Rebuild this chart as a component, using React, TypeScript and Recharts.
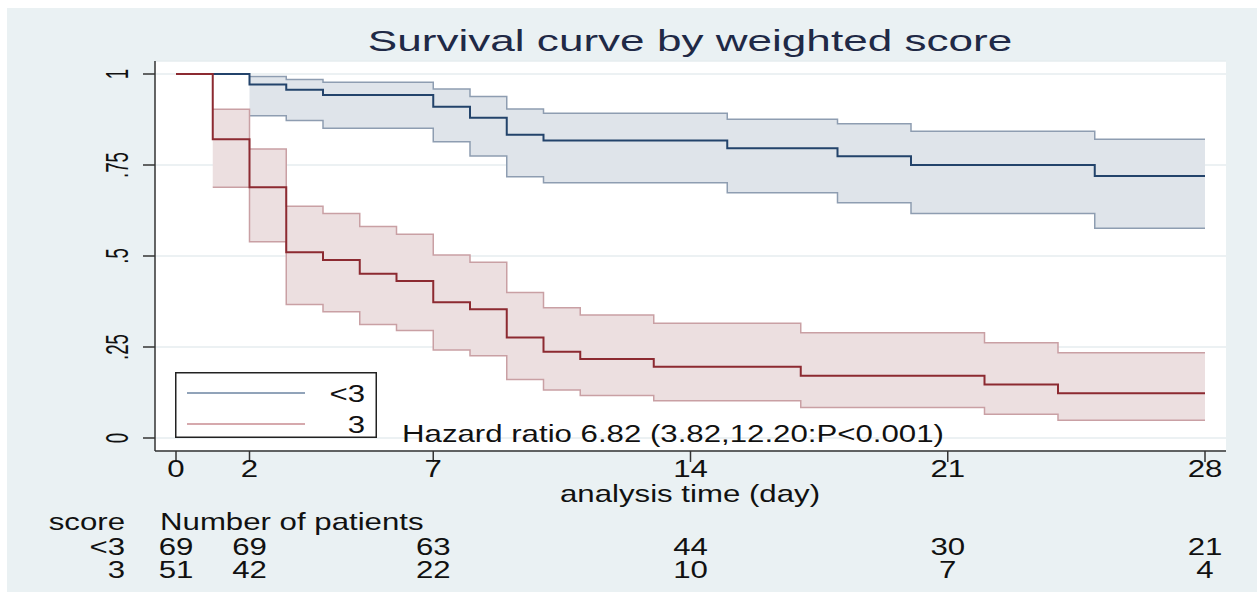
import { Area, CartesianGrid, ComposedChart, Legend, Line, XAxis, YAxis } from 'recharts'

const W = 1257
const H = 592
const FONT = '"Liberation Sans", Arial, Helvetica, sans-serif'
// the source picture is stretched sideways, so text is widened to match
const SX = 1.3

// score < 3
const lowTimes = [0, 2, 3, 4, 7, 8, 9, 10, 15, 18, 20, 25, 28]
const lowSurv = [1, 0.971, 0.957, 0.942, 0.91, 0.88, 0.833, 0.817, 0.796, 0.774, 0.75, 0.72, 0.72]
const lowBandTimes = [2, 3, 4, 7, 8, 9, 10, 15, 18, 20, 25, 28]
const lowUpper = [0.993, 0.985, 0.977, 0.959, 0.938, 0.904, 0.892, 0.876, 0.863, 0.843, 0.821, 0.821]
const lowLower = [0.885, 0.872, 0.851, 0.814, 0.775, 0.718, 0.701, 0.674, 0.646, 0.617, 0.576, 0.576]

// score 3
const highTimes = [0, 1, 2, 3, 4, 5, 6, 7, 8, 9, 10, 11, 13, 17, 22, 24, 28]
const highSurv = [1, 0.821, 0.689, 0.51, 0.489, 0.451, 0.431, 0.373, 0.354, 0.276, 0.237, 0.217, 0.196, 0.171, 0.147, 0.123, 0.123]
const highBandTimes = [1, 2, 3, 4, 5, 6, 7, 8, 9, 10, 11, 13, 17, 22, 24, 28]
const highUpper = [0.903, 0.794, 0.637, 0.617, 0.581, 0.56, 0.503, 0.483, 0.4, 0.358, 0.338, 0.315, 0.289, 0.262, 0.234, 0.234]
const highLower = [0.689, 0.539, 0.367, 0.347, 0.312, 0.295, 0.242, 0.226, 0.161, 0.132, 0.117, 0.102, 0.084, 0.065, 0.049, 0.049]

const xTicks = [0, 2, 7, 14, 21, 28]
const yTicks = [0, 0.25, 0.5, 0.75, 1]
const yTickLabels = ['0', '.25', '.5', '.75', '1']
const riskLow = [69, 69, 63, 44, 30, 21]
const riskHigh = [51, 42, 22, 10, 7, 4]
const legendNames = ['<3', '3']
const legendColors = ['#91a3b9', '#d6a9ad']

const lowCurve = lowTimes.map((t, i) => ({ t, s: lowSurv[i] }))
const lowBand = lowBandTimes.map((t, i) => ({ t, lo: lowLower[i], hi: lowUpper[i] }))
const highCurve = highTimes.map((t, i) => ({ t, s: highSurv[i] }))
const highBand = highBandTimes.map((t, i) => ({ t, lo: highLower[i], hi: highUpper[i] }))

function SText({ x, y, anchor = 'start', size = 24, sx = SX, fill = '#111', children }: any) {
  return (
    <text
      transform={`translate(${x},${y}) scale(${sx},1)`}
      textAnchor={anchor}
      fontSize={size}
      fontFamily={FONT}
      fill={fill}
    >
      {children}
    </text>
  )
}

function XTick(props: any) {
  const { x, payload } = props
  const i = xTicks.indexOf(payload.value)
  return (
    <g>
      <SText x={x} y={477} anchor="middle">{String(payload.value)}</SText>
      <SText x={x} y={555} anchor="middle">{riskLow[i]}</SText>
      <SText x={x} y={578} anchor="middle">{riskHigh[i]}</SText>
    </g>
  )
}

function YTick(props: any) {
  const { y, payload } = props
  const label = yTickLabels[yTicks.indexOf(payload.value)]
  return (
    <text
      transform={`translate(128,${y}) scale(1.4,1) rotate(-90) scale(0.85,1)`}
      textAnchor="middle"
      fontSize={22}
      fontFamily={FONT}
      fill="#111"
    >
      {label}
    </text>
  )
}

function LegendBox() {
  return (
    <svg width={202} height={66} style={{ display: 'block' }}>
      <rect x={0.75} y={0.75} width={200.5} height={64.5} fill="#fff" stroke="#222" strokeWidth={1.5} />
      {legendNames.map((name, i) => (
        <g key={name}>
          <line x1={12} x2={130} y1={21 + i * 31} y2={21 + i * 31} stroke={legendColors[i]} strokeWidth={2} />
          <SText x={190} y={30 + i * 31} anchor="end">{name}</SText>
        </g>
      ))}
    </svg>
  )
}

export default function App() {
  return (
    <div style={{ position: 'absolute', left: 0, top: 0, width: W, height: H, background: '#fff' }}>
      <div style={{ position: 'absolute', left: 7, top: 8, width: W - 7, height: 584, background: '#eaf1f3' }} />
      <div style={{ position: 'absolute', left: 0, top: 0 }}>
        <ComposedChart width={W} height={H} margin={{ top: 61, right: 31, bottom: 111, left: 95 }}>
          <CartesianGrid fill="#fff" vertical={false} stroke="#e6edef" strokeWidth={1.5} />
          <XAxis
            type="number"
            dataKey="t"
            domain={[0, 28]}
            ticks={xTicks}
            padding={{ left: 21, right: 21 }}
            height={30}
            tickSize={11}
            axisLine={{ stroke: '#333', strokeWidth: 1.5 }}
            tickLine={{ stroke: '#333', strokeWidth: 1.5 }}
            tick={(p: any) => <XTick {...p} />}
            allowDataOverflow
          />
          <YAxis
            type="number"
            domain={[0, 1]}
            ticks={yTicks}
            padding={{ top: 13, bottom: 13 }}
            width={60}
            tickSize={12}
            axisLine={{ stroke: '#333', strokeWidth: 1.5 }}
            tickLine={{ stroke: '#333', strokeWidth: 1.5 }}
            tick={(p: any) => <YTick {...p} />}
          />
          <Area
            data={lowBand}
            type="stepAfter"
            dataKey={(d: any) => [d.lo, d.hi]}
            fill="#dfe4ea"
            fillOpacity={1}
            stroke="#8e9db1"
            strokeWidth={1.5}
            dot={false}
            activeDot={false}
            isAnimationActive={false}
          />
          <Area
            data={highBand}
            type="stepAfter"
            dataKey={(d: any) => [d.lo, d.hi]}
            fill="#ecdfe0"
            fillOpacity={1}
            stroke="#c9a0a4"
            strokeWidth={1.5}
            dot={false}
            activeDot={false}
            isAnimationActive={false}
          />
          <Line
            data={lowCurve}
            type="stepAfter"
            dataKey="s"
            stroke="#23436b"
            strokeWidth={2}
            dot={false}
            activeDot={false}
            isAnimationActive={false}
          />
          <Line
            data={highCurve}
            type="stepAfter"
            dataKey="s"
            stroke="#8c2a31"
            strokeWidth={2}
            dot={false}
            activeDot={false}
            isAnimationActive={false}
          />
          <Legend
            layout="vertical"
            align="center"
            verticalAlign="middle"
            wrapperStyle={{ left: 175, top: 372, width: 202, height: 66 }}
            content={() => <LegendBox />}
          />
        </ComposedChart>
      </div>
      <svg width={W} height={H} style={{ position: 'absolute', left: 0, top: 0, pointerEvents: 'none' }}>
        <SText x={690} y={51} anchor="middle" size={30} sx={1.47} fill="#1f2946">
          Survival curve by weighted score
        </SText>
        <SText x={690} y={502} anchor="middle">analysis time (day)</SText>
        <SText x={125} y={530} anchor="end">score</SText>
        <SText x={160} y={530}>Number of patients</SText>
        <SText x={125} y={555} anchor="end">{'<3'}</SText>
        <SText x={125} y={578} anchor="end">3</SText>
        <SText x={402} y={442}>Hazard ratio 6.82 (3.82,12.20:P&lt;0.001)</SText>
      </svg>
    </div>
  )
}
